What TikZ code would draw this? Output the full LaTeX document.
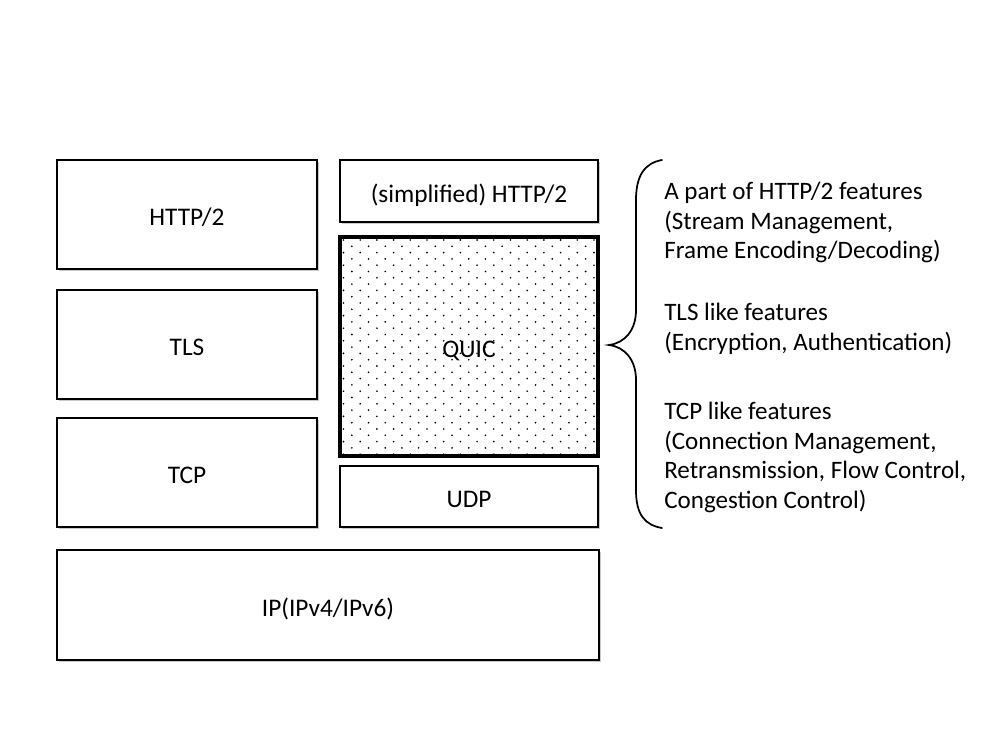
\documentclass[tikz,border=0pt]{standalone}
\usepackage{fontspec}
\setmainfont{Carlito}
\usetikzlibrary{shadows}
\begin{document}
\begin{tikzpicture}[x={(0.75pt,0)},y={(0,-0.75pt)},
  box/.style={draw=black,line width=1pt,fill=white,inner sep=0pt,outer sep=0pt,
    font=\fontsize{19}{22}\selectfont,text height=20.7pt,text depth=4pt,
    drop shadow={shadow xshift=1.2pt,shadow yshift=-1.2pt,opacity=0.35,fill=black!60}},
  quicbox/.style={draw=black,line width=2.6pt,inner sep=0pt,outer sep=0pt,
    font=\fontsize{19}{22}\selectfont,text height=20.7pt,text depth=4pt},
  feat/.style={anchor=north west,align=left,inner sep=0pt,font=\fontsize{18.8}{22.2}\selectfont}]
\useasboundingbox (0,0) rectangle (1000,750);
\fill[white] (0,0) rectangle (1000,750);
% left stack
\node[box,minimum width=195pt,minimum height=81.75pt] (http) at (187,214.5) {HTTP/2};
\node[box,minimum width=195pt,minimum height=81.75pt] (tls) at (187,344.5) {TLS};
\node[box,minimum width=195pt,minimum height=81.75pt] (tcp) at (187,472.5) {TCP};
\node[box,minimum width=406.5pt,minimum height=82.5pt] (ip) at (328,605) {IP(IPv4/IPv6)};
% right stack
\node[box,minimum width=193.5pt,minimum height=46.5pt] (shttp) at (469,191) {(simplified) HTTP/2};
\node[box,minimum width=193.5pt,minimum height=45.75pt] (udp) at (469,496.5) {UDP};
% QUIC dotted
\coordinate (qa) at (340,237);
\coordinate (qb) at (598,456);
\begin{scope}
\clip (qa) rectangle (qb);
\foreach \i in {0,...,35}{
  \pgfmathsetmacro{\yy}{240+6.3*\i}
  \pgfmathsetmacro{\xo}{mod(\i,2)*8.35}
  \foreach \j in {0,...,16}{
    \fill[black] (343.5+\xo+16.7*\j,\yy) circle (0.7pt);
  }
}
\end{scope}
\node[quicbox,minimum width=193.5pt,minimum height=164.25pt] (quic) at (469,346.5) {QUIC};
% brace
\coordinate (btop) at (662,160);
\coordinate (bbot) at (662,528);
\coordinate (btip) at (609,345);
\draw[line width=1.3pt,line cap=round]
  (btop) .. controls (645,163) and (636,175) .. (636,200)
  -- (636,310) .. controls (636,330) and (625,343) .. (btip)
  .. controls (625,347) and (636,360) .. (636,380)
  -- (636,490) .. controls (636,515) and (645,525) .. (bbot);
% feature texts
\node[feat] (f1) at (664,182) {A part of HTTP/2 features\\(Stream Management,\\Frame Encoding/Decoding)};
\node[feat] (f2) at (664,303) {TLS like features\\(Encryption, Authentication)};
\node[feat] (f3) at (664,402) {TCP like features\\(Connection Management,\\Retransmission, Flow Control,\\Congestion Control)};
\end{tikzpicture}
\end{document}
